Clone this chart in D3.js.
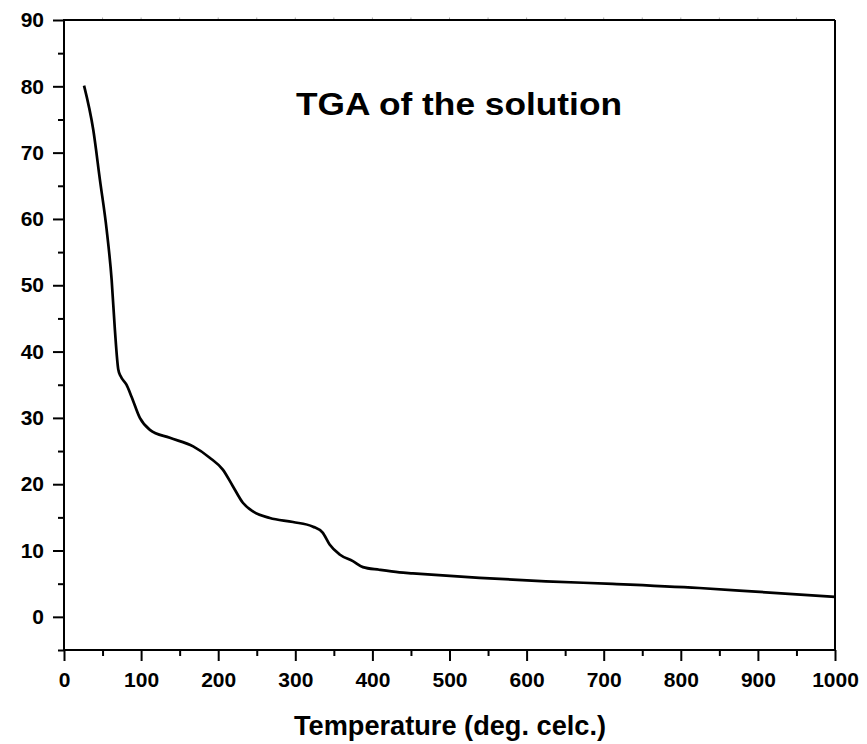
<!DOCTYPE html>
<html>
<head>
<meta charset="utf-8">
<script src="https://cdn.jsdelivr.net/npm/d3@7"></script>
<style>
  html, body { margin: 0; padding: 0; background: #fff; }
  svg { display: block; }
  text { font-family: "Liberation Sans", Arial, sans-serif; font-weight: bold; fill: #000; }
</style>
</head>
<body>
<svg id="chart" width="867" height="744"></svg>
<script>
// ---- data ----
const temperature = [26, 38, 46.6, 55.3, 61.8, 66, 70.4, 73.4, 81, 87.6, 98.4, 111.4, 137.3, 167.5, 189, 206, 219, 232, 245, 267, 297, 323, 335.5, 344.5, 357.5, 374.7, 387.7, 409, 435, 452.5, 539, 625, 711.5, 824, 897, 1000];
const massPercent = [80.1, 73.4, 65.9, 58.4, 50.8, 43.3, 37.3, 36.3, 35.0, 33.2, 30.0, 28.2, 27.0, 25.7, 24.0, 22.2, 19.7, 17.2, 15.9, 14.9, 14.3, 13.6, 12.7, 10.9, 9.4, 8.4, 7.5, 7.1, 6.7, 6.55, 5.87, 5.36, 4.97, 4.35, 3.8, 3.0];
const xMajorTicks = [0, 100, 200, 300, 400, 500, 600, 700, 800, 900, 1000];
const xMinorTicks = [50, 150, 250, 350, 450, 550, 650, 750, 850, 950];
const yMajorTicks = [0, 10, 20, 30, 40, 50, 60, 70, 80, 90];
const yMinorTicks = [-5, 5, 15, 25, 35, 45, 55, 65, 75, 85];
const titleText = "TGA of the solution";
const xTitle = "Temperature (deg. celc.)";

// ---- layout ----
const svg = d3.select("#chart");
const L = 64, R = 835, T = 20, B = 650;
const x = d3.scaleLinear().domain([0, 1000]).range([L, R]);
const y = d3.scaleLinear().domain([-5, 90]).range([B, T]);

const data = temperature.map((t, i) => ({ t, v: massPercent[i] }));

// curve
svg.append("path")
  .datum(data)
  .attr("fill", "none")
  .attr("stroke", "#000")
  .attr("stroke-width", 2.7)
  .attr("stroke-linejoin", "round")
  .attr("d", d3.line().x(d => x(d.t)).y(d => y(d.v)).curve(d3.curveMonotoneX));

// frame (top and right)
svg.append("line").attr("x1", L).attr("x2", R).attr("y1", T).attr("y2", T)
  .attr("stroke", "#000").attr("stroke-width", 2);
svg.append("line").attr("x1", R).attr("x2", R).attr("y1", T).attr("y2", B)
  .attr("stroke", "#000").attr("stroke-width", 2);

// faint top ticks
svg.append("g").selectAll("line").data(xMinorTicks.concat(xMajorTicks.slice(1, -1)))
  .join("line")
  .attr("x1", d => x(d)).attr("x2", d => x(d))
  .attr("y1", T - 1).attr("y2", T - 2.5)
  .attr("stroke", "#aaa").attr("stroke-width", 1);

// x axis
svg.append("g").attr("transform", `translate(0,${B})`)
  .call(d3.axisBottom(x).tickValues(xMajorTicks).tickSize(11).tickPadding(11).tickFormat(d3.format("d")));
svg.append("g").attr("transform", `translate(0,${B})`)
  .call(d3.axisBottom(x).tickValues(xMinorTicks).tickSize(6).tickFormat(""));

// y axis
svg.append("g").attr("transform", `translate(${L},0)`)
  .call(d3.axisLeft(y).tickValues(yMajorTicks).tickSize(11).tickPadding(9).tickFormat(d3.format("d")));
svg.append("g").attr("transform", `translate(${L},0)`)
  .call(d3.axisLeft(y).tickValues(yMinorTicks).tickSize(6).tickFormat(""));

svg.selectAll(".tick line").attr("stroke", "#000").attr("stroke-width", 2);
svg.selectAll(".tick text")
  .style("font-family", '"Liberation Sans", Arial, sans-serif')
  .style("font-weight", "bold").style("font-size", "21px").attr("fill", "#000");

// clean axis lines
svg.selectAll(".domain").remove();
svg.append("line").attr("x1", L).attr("x2", R).attr("y1", B).attr("y2", B)
  .attr("stroke", "#000").attr("stroke-width", 2);
svg.append("line").attr("x1", L).attr("x2", L).attr("y1", T - 1).attr("y2", B + 1)
  .attr("stroke", "#000").attr("stroke-width", 2);

// title
svg.append("text")
  .attr("x", 459).attr("y", 115)
  .attr("text-anchor", "middle")
  .attr("textLength", 326)
  .attr("lengthAdjust", "spacingAndGlyphs")
  .style("font-size", "32px")
  .text(titleText);

// x title
svg.append("text")
  .attr("x", 450).attr("y", 735)
  .attr("text-anchor", "middle")
  .attr("textLength", 312)
  .attr("lengthAdjust", "spacingAndGlyphs")
  .style("font-size", "27px")
  .text(xTitle);
</script>
</body>
</html>
